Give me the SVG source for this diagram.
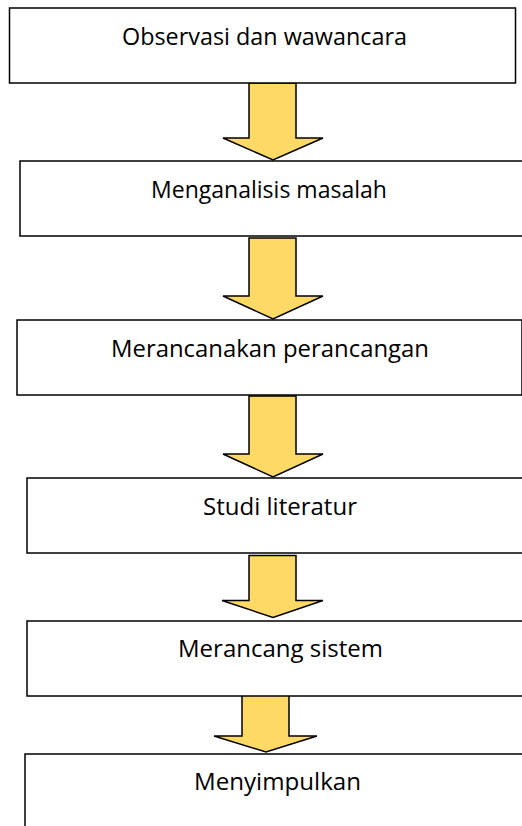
<svg xmlns="http://www.w3.org/2000/svg" width="522" height="826" viewBox="0 0 522 826">
<style>
.box{fill:#fff;stroke:#000;stroke-width:1.5}
.arr{fill:#FFD966;stroke:#000;stroke-width:1.5;stroke-linejoin:miter}
.t{font-family:"Open Sans","Liberation Sans",sans-serif;font-size:23px;fill:#000;text-anchor:middle}
</style>
<rect width="522" height="826" fill="#fff"/>
<g id="connectors">
<path class="arr" d="M249,83 H296 V138 H323 L273,160 L223,138 H249 Z"/>
<path class="arr" d="M249,238 H296 V296 H323 L273,319 L223,296 H249 Z"/>
<path class="arr" d="M249,396 H296 V454 H323 L273,477 L223,454 H249 Z"/>
<path class="arr" d="M249,555.5 H296 V600.5 H323 L273,617.5 L222,600.5 H249 Z"/>
<path class="arr" d="M242,694 H289 V736 H317 L266,752 L214,736 H242 Z"/>
</g>
<g id="n1"><rect class="box" x="9.5" y="8" width="506" height="75"/><text class="t" x="264.5" y="45" textLength="285" lengthAdjust="spacingAndGlyphs">Observasi dan wawancara</text></g>
<g id="n2"><rect class="box" x="20" y="161" width="510" height="75"/><text class="t" x="269" y="198" textLength="236" lengthAdjust="spacingAndGlyphs">Menganalisis masalah</text></g>
<g id="n3"><rect class="box" x="17" y="320" width="505" height="75"/><text class="t" x="270" y="357" textLength="318" lengthAdjust="spacingAndGlyphs">Merancanakan perancangan</text></g>
<g id="n4"><rect class="box" x="27" y="478" width="505" height="75"/><text class="t" x="280" y="515" textLength="154" lengthAdjust="spacingAndGlyphs">Studi literatur</text></g>
<g id="n5"><rect class="box" x="27" y="621" width="505" height="75"/><text class="t" x="280.5" y="657" textLength="205" lengthAdjust="spacingAndGlyphs">Merancang sistem</text></g>
<g id="n6"><rect class="box" x="25" y="754" width="505" height="80"/><text class="t" x="277.5" y="790" textLength="167" lengthAdjust="spacingAndGlyphs">Menyimpulkan</text></g>
</svg>
